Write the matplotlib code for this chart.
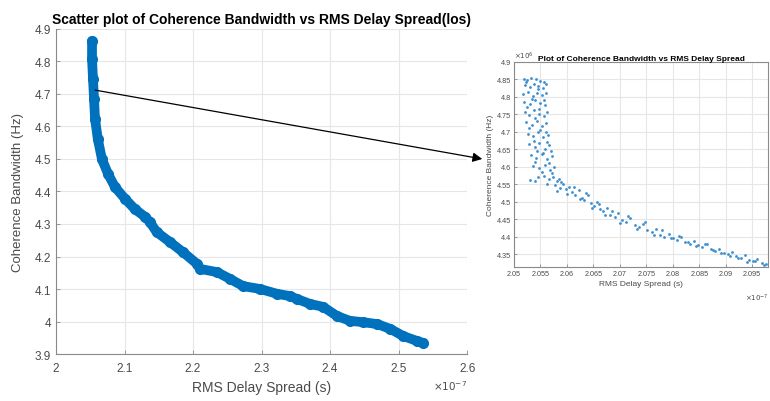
import numpy as np
import matplotlib.pyplot as plt

plt.rcParams['font.family'] = ['Liberation Sans', 'DejaVu Sans']

# main curve: RMS delay spread (x1e-7 s) vs coherence bandwidth
delay = [2.0526, 2.0526, 2.054, 2.0555, 2.057, 2.061, 2.067, 2.076, 2.086,
         2.101, 2.115, 2.130, 2.137, 2.147, 2.166, 2.185, 2.206, 2.210,
         2.235, 2.254, 2.273, 2.298, 2.323, 2.342, 2.352, 2.371, 2.390,
         2.410, 2.429, 2.448, 2.469, 2.488, 2.507, 2.527, 2.536]
bw = [4.863, 4.808, 4.746, 4.685, 4.623, 4.562, 4.500, 4.454, 4.414,
      4.377, 4.346, 4.322, 4.306, 4.275, 4.245, 4.214, 4.177, 4.162,
      4.152, 4.131, 4.109, 4.100, 4.085, 4.078, 4.069, 4.054, 4.045,
      4.017, 4.002, 3.998, 3.992, 3.977, 3.955, 3.940, 3.934]

# zoomed sample (x1e-7 s, x1e6 Hz)
zx = [2.0518, 2.0525, 2.0533, 2.0541, 2.0549, 2.0556,
      2.0520, 2.0530, 2.0538, 2.0546, 2.0555, 2.0560,
      2.0517, 2.0527, 2.0536, 2.0544, 2.0552, 2.0561,
      2.0519, 2.0531, 2.0540, 2.0550, 2.0558,
      2.0521, 2.0529, 2.0537, 2.0547, 2.0556, 2.0562,
      2.0523, 2.0534, 2.0543, 2.0553, 2.0561,
      2.0526, 2.0535, 2.0545, 2.0555, 2.0564,
      2.0529, 2.0539, 2.0548, 2.0558, 2.0567,
      2.0532, 2.0542, 2.0552, 2.0563, 2.0571,
      2.0536, 2.0547, 2.0558, 2.0568, 2.0576,
      2.0530, 2.0545, 2.0556, 2.0566, 2.0574, 2.0582,
      2.0522, 2.0545, 2.0534, 2.0557, 2.0525, 2.0548, 2.0540, 2.0528,
      2.0550, 2.0560, 2.0538, 2.0562, 2.0544, 2.0555, 2.0570, 2.0540,
      2.0566, 2.0552, 2.0572, 2.0540, 2.0562, 2.0585,
      2.0578, 2.0586, 2.0592, 2.0598, 2.0604, 2.0610, 2.0616, 2.0622,
      2.0628, 2.0633, 2.0639, 2.0645, 2.0651, 2.0657, 2.0663, 2.0669,
      2.0675, 2.0682, 2.0690, 2.0697, 2.0704, 2.0712, 2.0720, 2.0728,
      2.0736, 2.0744, 2.0752, 2.0760, 2.0768, 2.0776, 2.0784, 2.0792,
      2.0800, 2.0808, 2.0816, 2.0824, 2.0832, 2.0840, 2.0848, 2.0856,
      2.0864, 2.0872, 2.0880, 2.0888, 2.0896, 2.0904, 2.0912, 2.0920,
      2.0928, 2.0936, 2.0944, 2.0952, 2.0960, 2.0968, 2.0976,
      2.0581, 2.0589, 2.0601, 2.0613, 2.0625, 2.0636, 2.0648, 2.0660,
      2.0672, 2.0686, 2.0700, 2.0716, 2.0732, 2.0748, 2.0764, 2.0780,
      2.0796, 2.0812, 2.0828, 2.0844, 2.0860, 2.0876, 2.0892, 2.0908,
      2.0924, 2.0940, 2.0956, 2.0972]
zy = [4.852, 4.848, 4.853, 4.850, 4.846, 4.843,
      4.835, 4.828, 4.838, 4.831, 4.826, 4.836,
      4.808, 4.815, 4.802, 4.811, 4.805, 4.812,
      4.786, 4.779, 4.790, 4.782, 4.776,
      4.757, 4.748, 4.762, 4.751, 4.745, 4.758,
      4.727, 4.720, 4.731, 4.716, 4.724,
      4.695, 4.688, 4.699, 4.684, 4.692,
      4.664, 4.657, 4.668, 4.652, 4.661,
      4.634, 4.626, 4.637, 4.622, 4.630,
      4.603, 4.596, 4.606, 4.592, 4.600,
      4.563, 4.570, 4.575, 4.565, 4.572, 4.560,
      4.842, 4.822, 4.795, 4.792, 4.770, 4.765, 4.740, 4.710,
      4.705, 4.700, 4.675, 4.672, 4.645, 4.640, 4.645, 4.615,
      4.610, 4.585, 4.582, 4.558, 4.552, 4.566,
      4.548, 4.540, 4.552, 4.535, 4.543, 4.528, 4.520, 4.533,
      4.512, 4.505, 4.518, 4.497, 4.488, 4.500, 4.479, 4.472,
      4.481, 4.463, 4.456, 4.468, 4.449, 4.441, 4.452, 4.434,
      4.428, 4.436, 4.419, 4.412, 4.422, 4.405, 4.399, 4.408,
      4.395, 4.390, 4.398, 4.385, 4.380, 4.388, 4.376, 4.371,
      4.378, 4.365, 4.360, 4.366, 4.354, 4.350, 4.356, 4.344,
      4.340, 4.346, 4.334, 4.330, 4.336, 4.325, 4.322,
      4.532, 4.556, 4.522, 4.541, 4.508, 4.525, 4.482, 4.493,
      4.462, 4.474, 4.440, 4.458, 4.422, 4.443, 4.404, 4.418,
      4.396, 4.401, 4.386, 4.372, 4.380, 4.362, 4.352, 4.345,
      4.340, 4.328, 4.330, 4.318]

main_xticks = [2, 2.1, 2.2, 2.3, 2.4, 2.5, 2.6]
main_yticks = [3.9, 4, 4.1, 4.2, 4.3, 4.4, 4.5, 4.6, 4.7, 4.8, 4.9]
zoom_xticks = [2.05, 2.055, 2.06, 2.065, 2.07, 2.075, 2.08, 2.085, 2.09, 2.095]
zoom_yticks = [4.35, 4.4, 4.45, 4.5, 4.55, 4.6, 4.65, 4.7, 4.75, 4.8, 4.85, 4.9]

blue = '#0072BD'
axcol = '#8a8a8a'
txtcol = '#4a4a4a'

fig = plt.figure(figsize=(7.7, 4.02), dpi=100)

def style(ax, fs):
    ax.grid(True, color='#e6e6e6', linewidth=0.8)
    ax.set_axisbelow(True)
    for s in ax.spines.values():
        s.set_color(axcol)
        s.set_linewidth(0.8)
    ax.tick_params(direction='in', length=3, width=0.6, colors=axcol,
                   labelcolor=txtcol, labelsize=fs)

# main scatter
ax = fig.add_axes([0.0727, 0.1169, 0.534, 0.8085])
style(ax, 8.5)
ax.spines['top'].set_visible(False)
ax.spines['right'].set_visible(False)
ax.plot(delay, bw, color=blue, linewidth=7, solid_capstyle='round',
        solid_joinstyle='round', marker='o', markersize=7, zorder=3)
ax.set_xlim(2, 2.6)
ax.set_ylim(3.9, 4.9)
ax.set_xticks(main_xticks)
ax.set_xticklabels([f'{t:g}' for t in main_xticks])
ax.set_yticks(main_yticks)
ax.set_yticklabels([f'{t:g}' for t in main_yticks])
ax.tick_params(axis='x', pad=6)
ax.set_xlabel('RMS Delay Spread (s)', fontsize=10, color=txtcol, labelpad=4)
ax.set_ylabel('Coherence Bandwidth (Hz)', fontsize=9.5, color=txtcol, labelpad=8)
ax.set_title('Scatter plot of Coherence Bandwidth vs RMS Delay Spread(los)',
             fontsize=10, fontweight='bold', pad=4)
ax.text(1.0, -0.075, r'$\times10^{-7}$', transform=ax.transAxes, fontsize=7.5,
        color=txtcol, ha='right', va='top')

# zoomed scatter
ins = fig.add_axes([0.6675, 0.3333, 0.330, 0.510])
style(ins, 5.2)
ins.scatter(zx, zy, s=4, color='#3d8fd0', marker='o', linewidths=0, zorder=3)
ins.set_xlim(2.05, 2.098)
ins.set_ylim(4.313, 4.9)
ins.set_xticks(zoom_xticks)
ins.set_xticklabels([f'{t:g}' for t in zoom_xticks])
ins.set_yticks(zoom_yticks)
ins.set_yticklabels([f'{t:g}' for t in zoom_yticks])
ins.tick_params(length=2, pad=2)
ins.set_xlabel('RMS Delay Spread (s)', fontsize=6, color=txtcol, labelpad=2)
ins.set_ylabel('Coherence Bandwidth (Hz)', fontsize=6, color=txtcol, labelpad=2)
ins.set_title('Plot of Coherence Bandwidth vs RMS Delay Spread',
              fontsize=6, fontweight='bold', pad=1.5)
ins.text(0.0, 1.005, r'$\times10^{6}$', transform=ins.transAxes, fontsize=5,
         color=txtcol, ha='left', va='bottom')
ins.text(1.0, -0.12, r'$\times10^{-7}$', transform=ins.transAxes, fontsize=5,
         color=txtcol, ha='right', va='top')

# arrow from the curve to the zoomed view
ax.annotate('', xy=(-0.125, 0.527), xycoords=ins.transAxes,
            xytext=(2.057, 4.712), textcoords='data',
            arrowprops=dict(arrowstyle='-|>', color='black', lw=0.9,
                            mutation_scale=14, shrinkA=0, shrinkB=0),
            annotation_clip=False, zorder=5)

fig.savefig('out.png', dpi=100)
